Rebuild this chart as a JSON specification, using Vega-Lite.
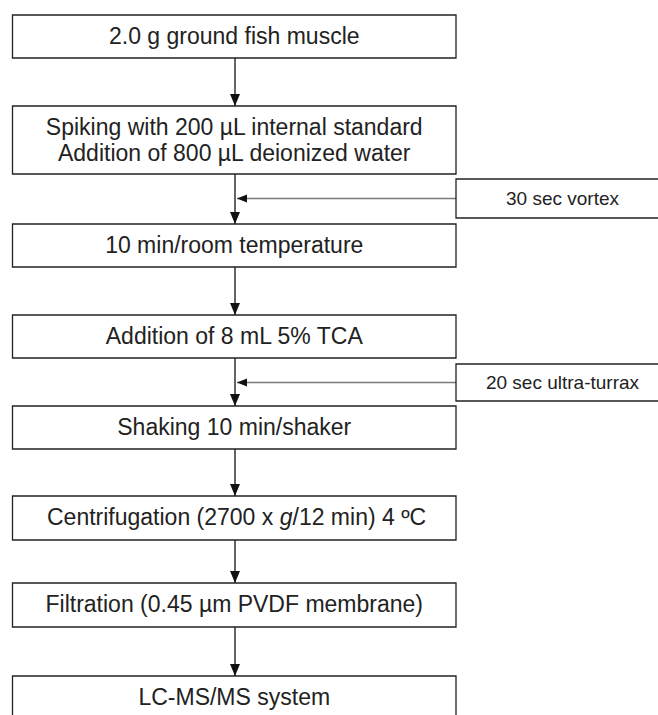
{
  "$schema": "https://vega.github.io/schema/vega-lite/v6.json",
  "width": 658,
  "height": 715,
  "padding": 0,
  "autosize": {"type": "fit", "contains": "padding"},
  "background": "white",
  "config": {"view": {"stroke": null}},
  "datasets": {
    "boxes": [
      {"step": 1, "x1": 12.5, "x2": 456, "y1": 15, "y2": 58},
      {"step": 2, "x1": 12.5, "x2": 456, "y1": 106, "y2": 174},
      {"step": 3, "x1": 12.5, "x2": 456, "y1": 224, "y2": 267},
      {"step": 4, "x1": 12.5, "x2": 456, "y1": 315, "y2": 358},
      {"step": 5, "x1": 12.5, "x2": 456, "y1": 406, "y2": 449},
      {"step": 6, "x1": 12.5, "x2": 456, "y1": 496, "y2": 540},
      {"step": 7, "x1": 12.5, "x2": 456, "y1": 583, "y2": 627},
      {"step": 8, "x1": 12.5, "x2": 456, "y1": 676, "y2": 719}
    ],
    "sideBoxes": [
      {"label": "30 sec vortex", "x1": 456, "x2": 669, "y1": 179, "y2": 218, "xc": 562.5, "yc": 198.5, "arrowTip": 237},
      {"label": "20 sec ultra-turrax", "x1": 456, "x2": 669, "y1": 364, "y2": 401, "xc": 562.5, "yc": 382.5, "arrowTip": 237}
    ],
    "connectors": [
      {"x": 235, "from": 58, "to": 106},
      {"x": 235, "from": 174, "to": 224},
      {"x": 235, "from": 267, "to": 315},
      {"x": 235, "from": 358, "to": 406},
      {"x": 235, "from": 449, "to": 496},
      {"x": 235, "from": 540, "to": 583},
      {"x": 235, "from": 627, "to": 676}
    ],
    "labels": [
      {"label": ["2.0 g ground fish muscle"], "x": 234.25, "y": 36.5},
      {"label": ["Spiking with 200 µL internal standard", "Addition of 800 µL deionized water"], "x": 234.25, "y": 128},
      {"label": ["10 min/room temperature"], "x": 234.25, "y": 245.5},
      {"label": ["Addition of 8 mL 5% TCA"], "x": 234.25, "y": 336.5},
      {"label": ["Shaking 10 min/shaker"], "x": 234.25, "y": 427.5},
      {"label": ["Filtration (0.45 µm PVDF membrane)"], "x": 234.25, "y": 605},
      {"label": ["LC-MS/MS system"], "x": 234.25, "y": 697.5}
    ],
    "segments": [
      {"label": "Centrifugation (2700 x", "x": 47, "y": 518},
      {"label": "/12 min) 4 ºC", "x": 292.5, "y": 518}
    ],
    "italic": [
      {"label": "g", "x": 279.7, "y": 518}
    ]
  },
  "layer": [
    {
      "data": {"name": "connectors"},
      "mark": {"type": "rule", "color": "#111", "strokeWidth": 1.3},
      "encoding": {
        "x": {"field": "x", "type": "quantitative", "scale": {"domain": [0, 658], "nice": false, "zero": false}, "axis": null},
        "y": {"field": "from", "type": "quantitative", "scale": {"domain": [0, 715], "nice": false, "zero": false, "reverse": true}, "axis": null},
        "y2": {"field": "to"}
      }
    },
    {
      "data": {"name": "sideBoxes"},
      "mark": {"type": "rule", "color": "#7a7a7a", "strokeWidth": 1.6},
      "encoding": {
        "x": {"field": "arrowTip", "type": "quantitative"},
        "x2": {"field": "x1"},
        "y": {"field": "yc", "type": "quantitative"}
      }
    },
    {
      "data": {"name": "boxes"},
      "mark": {"type": "rect", "fill": "white", "stroke": "#222", "strokeWidth": 1.3, "clip": true},
      "encoding": {
        "x": {"field": "x1", "type": "quantitative"},
        "x2": {"field": "x2"},
        "y": {"field": "y1", "type": "quantitative"},
        "y2": {"field": "y2"}
      }
    },
    {
      "data": {"name": "sideBoxes"},
      "mark": {"type": "rect", "fill": "white", "stroke": "#222", "strokeWidth": 1.3, "clip": true},
      "encoding": {
        "x": {"field": "x1", "type": "quantitative"},
        "x2": {"field": "x2"},
        "y": {"field": "y1", "type": "quantitative"},
        "y2": {"field": "y2"}
      }
    },
    {
      "data": {"name": "connectors"},
      "mark": {"type": "point", "shape": "M-0.83,-2L0.83,-2L0,0Z", "size": 144, "filled": true, "color": "#111", "opacity": 1},
      "encoding": {
        "x": {"field": "x", "type": "quantitative"},
        "y": {"field": "to", "type": "quantitative"}
      }
    },
    {
      "data": {"name": "sideBoxes"},
      "mark": {"type": "point", "shape": "M0,0L2,-0.8L2,0.8Z", "size": 100, "filled": true, "color": "#111", "opacity": 1},
      "encoding": {
        "x": {"field": "arrowTip", "type": "quantitative"},
        "y": {"field": "yc", "type": "quantitative"}
      }
    },
    {
      "data": {"name": "labels"},
      "mark": {"type": "text", "font": "Liberation Sans", "fontSize": 23, "lineHeight": 26, "align": "center", "baseline": "middle", "color": "#222"},
      "encoding": {
        "x": {"field": "x", "type": "quantitative"},
        "y": {"field": "y", "type": "quantitative"},
        "text": {"field": "label"}
      }
    },
    {
      "data": {"name": "segments"},
      "mark": {"type": "text", "font": "Liberation Sans", "fontSize": 23, "align": "left", "baseline": "middle", "color": "#222"},
      "encoding": {
        "x": {"field": "x", "type": "quantitative"},
        "y": {"field": "y", "type": "quantitative"},
        "text": {"field": "label"}
      }
    },
    {
      "data": {"name": "italic"},
      "mark": {"type": "text", "font": "Liberation Sans", "fontSize": 23, "fontStyle": "italic", "align": "left", "baseline": "middle", "color": "#222"},
      "encoding": {
        "x": {"field": "x", "type": "quantitative"},
        "y": {"field": "y", "type": "quantitative"},
        "text": {"field": "label"}
      }
    },
    {
      "data": {"name": "sideBoxes"},
      "mark": {"type": "text", "font": "Liberation Sans", "fontSize": 19, "align": "center", "baseline": "middle", "color": "#222"},
      "encoding": {
        "x": {"field": "xc", "type": "quantitative"},
        "y": {"field": "yc", "type": "quantitative"},
        "text": {"field": "label"}
      }
    }
  ]
}
